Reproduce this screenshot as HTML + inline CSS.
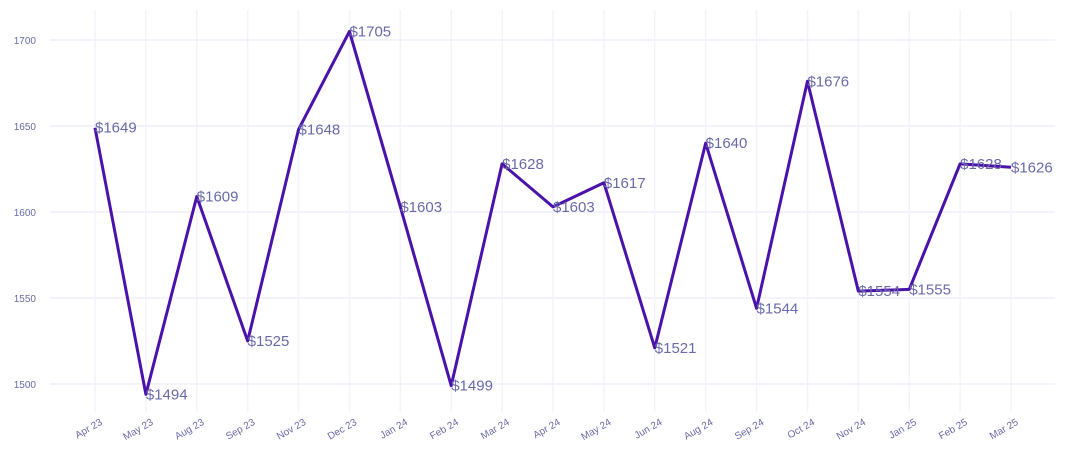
<!DOCTYPE html>
<html><head><meta charset="utf-8"><style>
body{margin:0;background:#fff;}
svg{display:block;font-family:"Liberation Sans",sans-serif;}
</style></head><body>
<svg id="chart" width="1070" height="465" viewBox="0 0 1070 465" xmlns="http://www.w3.org/2000/svg">
<g id="grid"></g>
<g id="yaxis"></g>
<g id="xaxis"></g>
<g id="series"></g>
</svg>
<script>
const categories=["Apr 23","May 23","Aug 23","Sep 23","Nov 23","Dec 23","Jan 24","Feb 24","Mar 24","Apr 24","May 24","Jun 24","Aug 24","Sep 24","Oct 24","Nov 24","Jan 25","Feb 25","Mar 25"];
const values=[1649,1494,1609,1525,1648,1705,1603,1499,1628,1603,1617,1521,1640,1544,1676,1554,1555,1628,1626];
const yTicks=[1500,1550,1600,1650,1700];
const NS="http://www.w3.org/2000/svg";
const x0=95,x1=1011;
function xPos(i){return x0+(x1-x0)*i/(categories.length-1);}
function yPos(v){return 384-(v-1500)*(384-40)/200;}
function mk(tag,attrs,parent){const e=document.createElementNS(NS,tag);for(const k in attrs)e.setAttribute(k,attrs[k]);parent.appendChild(e);return e;}
const grid=document.getElementById('grid'),ya=document.getElementById('yaxis'),xa=document.getElementById('xaxis'),se=document.getElementById('series');
yTicks.forEach(t=>{
 const l=mk('line',{x1:50,x2:1055,y1:yPos(t),y2:yPos(t),stroke:'#efeffb','stroke-width':1.5},grid);
 
 
 const tx=mk('text',{x:36,y:yPos(t)+4,'text-anchor':'end','font-size':10,fill:'#6a6aaa'},ya);
 tx.textContent=t;
 
 
});
categories.forEach((c,i)=>{
 const x=xPos(i);
 const l=mk('line',{x1:x,x2:x,y1:10,y2:412,stroke:'#f3f3fc','stroke-width':1.5},grid);
 
 
 const tx=mk('text',{x:x+8,y:424,'text-anchor':'end','font-size':10,fill:'#6a6aaa',transform:`rotate(-30 ${x+8} 424)`},xa);
 tx.textContent=c;
 
 
});
const pts=values.map((v,i)=>xPos(i)+','+yPos(v)).join(' ');
const pl=mk('polyline',{points:pts,fill:'none',stroke:'#4a12aa','stroke-width':3,'stroke-linejoin':'round'},se);


values.forEach((v,i)=>{
 const tx=mk('text',{x:xPos(i),y:yPos(v)+5,'font-size':15,fill:'#6a6aaa'},se);
 tx.textContent='$'+v;
 
 
});
</script>
</body></html>
